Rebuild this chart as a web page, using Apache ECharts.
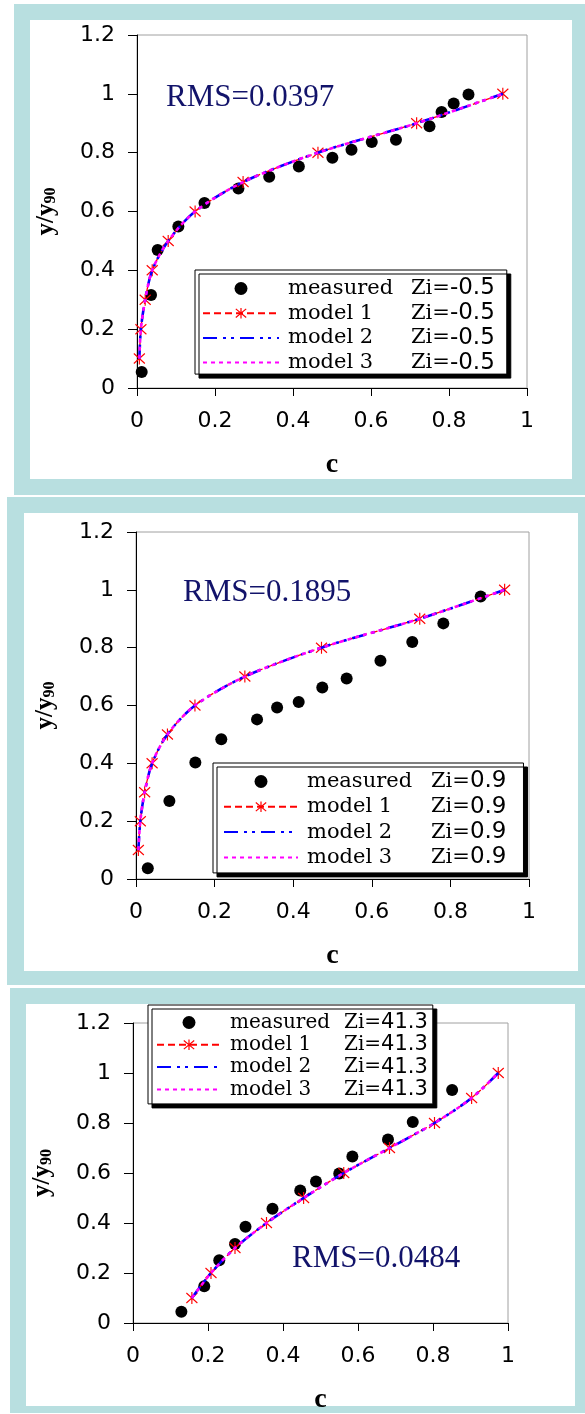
<!DOCTYPE html>
<html>
<head>
<meta charset="utf-8">
<title>y/y90 against c</title>
<script src="https://cdn.jsdelivr.net/npm/echarts@6/dist/echarts.min.js"></script>
<style>
  html, body { margin: 0; padding: 0; background: #fff; }
  #chart { width: 585px; height: 1414px; }
</style>
</head>
<body>
<div id="chart"></div>
<script>
// model curves are read at y/y90 = 0.1 .. 1.0
const modelLevels = [0.1, 0.2, 0.3, 0.4, 0.5, 0.6, 0.7, 0.8, 0.9, 1.0];

// panel 1 : Zi=-0.5
const p1MeasuredC = [0.012, 0.036, 0.053, 0.106, 0.173, 0.260, 0.339, 0.415, 0.501, 0.550, 0.602, 0.664, 0.750, 0.781, 0.812, 0.850];
const p1MeasuredY = [0.054, 0.316, 0.469, 0.549, 0.629, 0.678, 0.718, 0.753, 0.783, 0.810, 0.836, 0.844, 0.890, 0.938, 0.967, 0.998];
const p1ModelC = [0.006, 0.010, 0.021, 0.039, 0.080, 0.149, 0.272, 0.464, 0.717, 0.938];

// panel 2 : Zi=0.9
const p2MeasuredC = [0.030, 0.085, 0.151, 0.217, 0.308, 0.359, 0.414, 0.474, 0.536, 0.622, 0.703, 0.782, 0.877];
const p2MeasuredY = [0.037, 0.270, 0.403, 0.483, 0.552, 0.593, 0.612, 0.662, 0.693, 0.755, 0.820, 0.884, 0.977];
const p2ModelC = [0.006, 0.011, 0.022, 0.041, 0.080, 0.150, 0.277, 0.472, 0.722, 0.938];

// panel 3 : Zi=41.3
const p3MeasuredC = [0.129, 0.190, 0.230, 0.272, 0.300, 0.372, 0.446, 0.488, 0.550, 0.585, 0.680, 0.746, 0.851];
const p3MeasuredY = [0.045, 0.147, 0.251, 0.316, 0.385, 0.457, 0.530, 0.566, 0.598, 0.666, 0.734, 0.804, 0.932];
const p3ModelC = [0.157, 0.208, 0.272, 0.356, 0.455, 0.562, 0.684, 0.804, 0.903, 0.974];

const ziValues = ['-0.5', '0.9', '41.3'];
const rmsTexts = ['RMS=0.0397', 'RMS=0.1895', 'RMS=0.0484'];
const xTicks = [0, 0.2, 0.4, 0.6, 0.8, 1];
const yTicks = [0, 0.2, 0.4, 0.6, 0.8, 1, 1.2];

const zip = (a, b) => a.map((v, i) => [v, b[i]]);

const asterisk = 'path://M1,1L11,11M1,11L11,1M6,0L6,12';
const serif = '"Liberation Serif", "Times New Roman", serif';
const wideSerif = '"DejaVu Serif", serif';   // the legend text is drawn wide in the original
const sans = '"DejaVu Sans", Verdana, sans-serif';

// layout of each panel (frame, plot, legend, rms text)
// legend rows are as tall as the biggest font, itemGap makes up the rest
const panels = [
  {
    frame: [14, 4, 571, 491], inner: [30, 20, 542, 459],
    grid: { left: 137, top: 35, width: 390, height: 353 },
    legend: { left: 195, top: 270, padding: [7, 12, 0, 7], itemWidth: 76, itemGap: 1.7, nameW: 123, fs: 21, vs: 23 },
    rms: [166, 98],
    measC: p1MeasuredC, measY: p1MeasuredY, modelC: p1ModelC
  },
  {
    frame: [7, 497, 578, 488], inner: [24, 513, 554, 458],
    grid: { left: 136, top: 532, width: 393, height: 347 },
    legend: { left: 213, top: 763, padding: [7, 17, 4, 10], itemWidth: 74, itemGap: 2.3, nameW: 124, fs: 21, vs: 23 },
    rms: [183, 593],
    measC: p2MeasuredC, measY: p2MeasuredY, modelC: p2ModelC
  },
  {
    frame: [10, 988, 575, 425], inner: [26, 1004, 549, 402],
    grid: { left: 133, top: 1023, width: 375, height: 300 },
    legend: { left: 148, top: 1005, padding: [7, 5, 4, 8], itemWidth: 64, itemGap: 1.3, nameW: 114, fs: 20, vs: 21 },
    rms: [292, 1259],
    measC: p3MeasuredC, measY: p3MeasuredY, modelC: p3ModelC
  }
];

const grids = [], xAxes = [], yAxes = [], series = [], legends = [], graphics = [];

panels.forEach((p, i) => {
  const zi = ziValues[i];
  const names = ['measured  Zi=' + zi, 'model 1  Zi=' + zi, 'model 2  Zi=' + zi, 'model 3  Zi=' + zi];

  graphics.push({
    type: 'rect', z: -20, silent: true,
    shape: { x: p.frame[0], y: p.frame[1], width: p.frame[2], height: p.frame[3] },
    style: { fill: '#b8dfe0' }
  });
  graphics.push({
    type: 'rect', z: -19, silent: true,
    shape: { x: p.inner[0], y: p.inner[1], width: p.inner[2], height: p.inner[3] },
    style: { fill: '#fff' }
  });
  graphics.push({
    type: 'text', z: 20, silent: true,
    style: {
      text: rmsTexts[i], x: p.rms[0], y: p.rms[1],
      fontFamily: serif, fontSize: 31, fill: '#12136a', verticalAlign: 'middle'
    }
  });

  grids.push(Object.assign({
    show: true, borderColor: '#a0a0a0', borderWidth: 1,
    backgroundColor: 'transparent', containLabel: false, outerBoundsMode: 'none'
  }, p.grid));

  xAxes.push({
    type: 'value', gridIndex: i, min: xTicks[0], max: xTicks[xTicks.length - 1], interval: 0.2,
    axisLine: { show: true, onZero: false, lineStyle: { color: '#000', width: 1 } },
    axisTick: { show: true, length: 8, lineStyle: { color: '#000' } },
    splitLine: { show: false },
    axisLabel: { color: '#000', fontFamily: sans, fontSize: 22, margin: 22 },
    name: 'c', nameLocation: 'middle', nameGap: 63,
    nameTextStyle: { color: '#000', fontFamily: serif, fontWeight: 'bold', fontSize: 28 }
  });

  yAxes.push({
    type: 'value', gridIndex: i, min: yTicks[0], max: yTicks[yTicks.length - 1], interval: 0.2,
    axisLine: { show: true, onZero: false, lineStyle: { color: '#000', width: 1 } },
    axisTick: { show: true, length: 9, lineStyle: { color: '#000' } },
    splitLine: { show: false },
    axisLabel: { color: '#000', fontFamily: sans, fontSize: 22, margin: 22 },
    name: '{a|y/y}{s|90}', nameLocation: 'middle', nameRotate: 90, nameGap: 78,
    nameTextStyle: {
      rich: {
        a: { color: '#000', fontFamily: serif, fontWeight: 'bold', fontSize: 25 },
        s: { color: '#000', fontFamily: serif, fontWeight: 'bold', fontSize: 16, padding: [9, 0, 0, 0] }
      }
    }
  });

  const modelData = zip(p.modelC, modelLevels);

  series.push({
    type: 'scatter', name: names[0], xAxisIndex: i, yAxisIndex: i,
    data: zip(p.measC, p.measY), symbolSize: 12,
    itemStyle: { color: '#000', opacity: 1 }, z: 2
  });
  series.push({
    type: 'line', name: names[1], xAxisIndex: i, yAxisIndex: i,
    data: modelData, smooth: 0.3,
    symbol: asterisk, symbolSize: [11, 12], showSymbol: true,
    itemStyle: { color: '#ff0000', borderColor: '#ff0000', borderWidth: 1.2 },
    lineStyle: { color: '#ff0000', width: 1.3, type: [7, 4] }, z: 3
  });
  series.push({
    type: 'line', name: names[2], xAxisIndex: i, yAxisIndex: i,
    data: modelData, smooth: 0.3, symbol: 'circle', showSymbol: false,
    itemStyle: { color: '#0000ff' },
    lineStyle: { color: '#0000ff', width: 2.6, type: [14, 6, 3, 5, 3, 6] }, z: 4
  });
  series.push({
    type: 'line', name: names[3], xAxisIndex: i, yAxisIndex: i,
    data: modelData, smooth: 0.3, symbol: 'circle', showSymbol: false,
    itemStyle: { color: '#ff00ff' },
    lineStyle: { color: '#ff00ff', width: 2.6, type: [4, 4] }, z: 5
  });

  const lg = p.legend;
  legends.push({
    orient: 'vertical', left: lg.left, top: lg.top, padding: lg.padding,
    itemWidth: lg.itemWidth, itemHeight: 13, itemGap: lg.itemGap,
    backgroundColor: '#fff', borderColor: '#000', borderWidth: 1,
    shadowColor: '#000', shadowBlur: 0, shadowOffsetX: 4, shadowOffsetY: 4,
    selectedMode: false, z: 10,
    data: [
      { name: names[0] },
      { name: names[1], itemStyle: { color: '#ff0000', borderColor: '#ff0000', borderWidth: 1.2 } },
      { name: names[2], itemStyle: { opacity: 0 } },
      { name: names[3], itemStyle: { opacity: 0 } }
    ],
    formatter: function (name) {
      const parts = name.split(' Zi=');
      return '{n|' + parts[0].trim() + '}{z|Zi=}{v|' + parts[1] + '}';
    },
    textStyle: {
      rich: {
        n: { fontFamily: wideSerif, fontSize: lg.fs, color: '#000', width: lg.nameW, align: 'left', padding: [0, 0, 0, 4] },
        z: { fontFamily: wideSerif, fontSize: lg.fs, color: '#000' },
        v: { fontFamily: sans, fontSize: lg.vs, color: '#000' }
      }
    }
  });
});

const chart = echarts.init(document.getElementById('chart'), null, { renderer: 'canvas' });
chart.setOption({
  animation: false,
  backgroundColor: '#fff',
  graphic: { elements: graphics },
  grid: grids,
  xAxis: xAxes,
  yAxis: yAxes,
  legend: legends,
  series: series
});
</script>
</body>
</html>
